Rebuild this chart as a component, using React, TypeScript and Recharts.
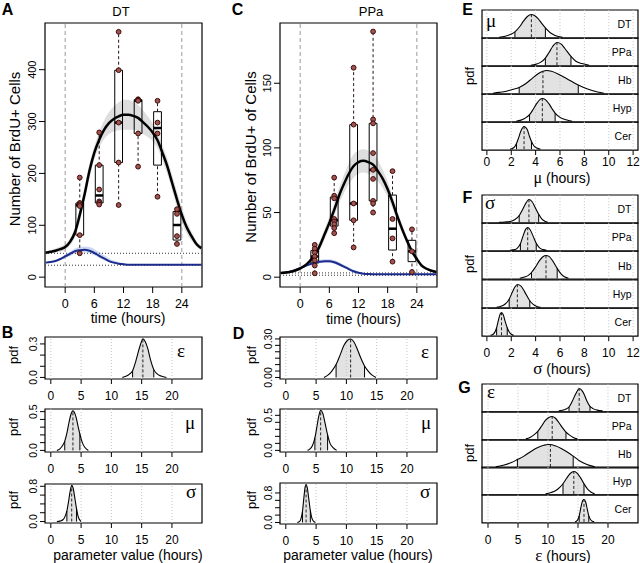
import React from 'react';
import { ComposedChart, XAxis, YAxis, Line, Area, Scatter, ReferenceLine, ReferenceArea } from 'recharts';

const SANS = '"Liberation Sans", Arial, Helvetica, sans-serif';
const SERIF = '"Liberation Serif", "Times New Roman", serif';

// time grid of the fitted curves (hours)
const hours = [-4, -3, -2, -1, 0, 1, 2, 3, 4, 5, 6, 7, 8, 9, 10, 11, 12, 13, 14, 15, 16, 17, 18, 19, 20, 21, 22, 23, 24, 25, 26, 27, 28];
const timeTicks = [0, 6, 12, 18, 24];
const sampleTimes = [3, 7, 11, 15, 19, 23];

// DT counts per sampling time
const dtCounts = [
  [192, 143, 140, 137, 81, 46],
  [279, 216, 169, 146, 143, 140],
  [473, 399, 298, 221, 139],
  [343, 342, 340, 277, 213],
  [340, 298, 277, 155],
  [131, 122, 79, 64],
];
const dtFit = [47, 49, 51, 54, 58, 68, 86, 120, 160, 205, 240, 265, 284, 297, 305, 310, 313, 313, 311, 307, 299, 290, 279, 264, 240, 214, 182, 150, 120, 96, 79, 64, 56];
const dtFitLo = [44, 46, 47, 49, 53, 61, 76, 106, 146, 191, 227, 250, 266, 276, 281, 283, 284, 284, 284, 282, 276, 270, 262, 248, 225, 199, 167, 135, 106, 84, 70, 59, 51];
const dtFitHi = [50, 52, 55, 59, 64, 75, 96, 134, 174, 219, 253, 280, 302, 318, 329, 337, 342, 342, 338, 332, 322, 310, 296, 280, 255, 229, 197, 165, 134, 108, 88, 70, 61];
const dtBg = [28, 29, 31, 35, 40, 45, 50, 52, 53, 51, 47, 41, 36, 31, 28, 26, 25, 24, 24, 24, 24, 24, 24, 24, 24, 24, 24, 24, 24, 24, 24, 24, 24];
const dtBgLo = [27, 28, 30, 33, 37, 41, 45, 47, 48, 46, 42, 37, 33, 29, 26.5, 25, 24, 23.5, 23.5, 23.5, 23.5, 23.5, 23.5, 23.5, 23.5, 23.5, 23.5, 23.5, 23.5, 23.5, 23.5, 23.5, 23.5];
const dtBgHi = [29, 30, 32, 37, 43, 49, 55, 58, 59, 58, 54, 48, 42, 36, 32, 29, 27, 25.5, 25, 24.5, 24.5, 24.5, 24.5, 24.5, 24.5, 24.5, 24.5, 24.5, 24.5, 24.5, 24.5, 24.5, 24.5];
const dtLevels = [46, 23];

// PPa counts per sampling time
const ppaCounts = [
  [25, 22, 19, 16, 13, 9, 3],
  [77, 63, 61, 45, 43, 41, 38, 34],
  [162, 118, 57, 44, 23],
  [190, 122, 119, 96, 83, 76, 59, 57, 50],
  [82, 45, 30, 12],
  [37, 20, 4],
];
const ppaFit = [3.3, 3.6, 4.2, 5.2, 6.8, 9, 12.5, 17, 24, 33, 42, 52, 63, 72, 80, 86, 89, 90, 89, 87, 82, 76, 68, 58, 47, 37, 28, 20, 14, 9, 6.5, 5, 4];
const ppaFitLo = [3, 3.2, 3.7, 4.5, 5.8, 7.6, 10.5, 14.5, 20.5, 29, 37.5, 47, 57, 65, 72, 77, 80, 81, 80, 78, 74, 69, 62, 53, 43, 33.5, 25, 17.5, 12, 7.7, 5.5, 4.2, 3.4];
const ppaFitHi = [3.6, 4, 4.7, 5.9, 7.8, 10.4, 14.5, 19.5, 27.5, 37, 46.5, 57, 69, 79, 88, 95, 98, 99, 98, 96, 90, 83, 74, 63, 51, 40.5, 31, 22.5, 16, 10.3, 7.5, 5.8, 4.6];
const ppaBg = [3.2, 3.6, 4.3, 5.5, 7, 8.6, 10, 11.2, 12, 12.4, 12.4, 11.6, 10, 8.2, 6.3, 4.6, 3.4, 2.7, 2.4, 2.3, 2.3, 2.3, 2.3, 2.3, 2.3, 2.3, 2.3, 2.3, 2.3, 2.3, 2.3, 2.3, 2.3];
const ppaBgLo = [3, 3.4, 4, 5, 6.3, 7.8, 9, 10.1, 10.8, 11.2, 11.2, 10.4, 8.9, 7.2, 5.4, 3.9, 2.9, 2.4, 2.2, 2.1, 2.1, 2.1, 2.1, 2.1, 2.1, 2.1, 2.1, 2.1, 2.1, 2.1, 2.1, 2.1, 2.1];
const ppaBgHi = [3.4, 3.9, 4.7, 6, 7.7, 9.4, 11, 12.4, 13.3, 13.8, 13.9, 13.2, 11.6, 9.7, 7.6, 5.6, 4.2, 3.3, 2.8, 2.6, 2.5, 2.5, 2.5, 2.5, 2.5, 2.5, 2.5, 2.5, 2.5, 2.5, 2.5, 2.5, 2.5];
const ppaLevels = [3.3, 1.5];

// posterior densities [value, pdf] and their quantiles [low, median, high]
const epsDT = [[11.8, 0], [12.4, 0.01], [13.0, 0.03], [13.5, 0.06], [14.0, 0.14], [14.5, 0.24], [14.9, 0.31], [15.2, 0.345], [15.6, 0.32], [16.0, 0.26], [16.5, 0.15], [17.0, 0.07], [17.5, 0.035], [18.2, 0.012], [19.1, 0]];
const epsDTq = [13.5, 15.2, 17.0];
const muDT = [[1.0, 0], [1.5, 0.02], [2.0, 0.07], [2.3, 0.12], [2.7, 0.24], [3.0, 0.36], [3.3, 0.46], [3.65, 0.51], [3.9, 0.49], [4.2, 0.42], [4.5, 0.31], [4.8, 0.21], [5.2, 0.1], [5.6, 0.04], [6.2, 0]];
const muDTq = [2.3, 3.65, 4.8];
const sigDT = [[1.0, 0], [1.5, 0.01], [2.0, 0.04], [2.3, 0.1], [2.65, 0.24], [2.9, 0.43], [3.2, 0.69], [3.45, 0.82], [3.7, 0.75], [4.0, 0.5], [4.25, 0.29], [4.5, 0.12], [4.75, 0.04], [5.0, 0]];
const sigDTq = [2.65, 3.45, 4.25];

const epsPPa = [[6.3, 0], [7.0, 0.02], [7.6, 0.05], [8.3, 0.1], [9.0, 0.18], [9.6, 0.25], [10.2, 0.29], [10.7, 0.3], [11.2, 0.28], [11.8, 0.22], [12.4, 0.15], [13.0, 0.09], [13.6, 0.05], [14.2, 0.02], [14.9, 0]];
const epsPPaq = [8.3, 10.7, 13.0];
const muPPa = [[3.6, 0], [4.0, 0.02], [4.4, 0.07], [4.8, 0.18], [5.1, 0.32], [5.4, 0.47], [5.75, 0.57], [6.1, 0.53], [6.4, 0.42], [6.9, 0.22], [7.3, 0.1], [7.8, 0.04], [8.4, 0]];
const muPPaq = [4.8, 5.75, 6.9];
const sigPPa = [[1.9, 0], [2.3, 0.03], [2.5, 0.1], [2.75, 0.3], [3.0, 0.7], [3.2, 0.97], [3.35, 1.03], [3.55, 0.93], [3.8, 0.63], [4.05, 0.32], [4.3, 0.12], [4.6, 0.03], [4.9, 0]];
const sigPPaq = [2.75, 3.35, 4.05];

const muHb = [[0.5, 0], [1.0, 0.01], [1.6, 0.025], [2.1, 0.045], [2.65, 0.07], [3.2, 0.12], [3.7, 0.18], [4.2, 0.24], [4.6, 0.27], [4.9, 0.28], [5.3, 0.27], [5.8, 0.24], [6.3, 0.2], [6.9, 0.15], [7.5, 0.1], [8.1, 0.06], [8.7, 0.03], [9.6, 0]];
const muHbq = [2.65, 4.6, 7.5];
const muHyp = [[2.4, 0], [2.8, 0.02], [3.1, 0.05], [3.5, 0.12], [3.8, 0.22], [4.1, 0.33], [4.35, 0.4], [4.55, 0.42], [4.8, 0.4], [5.1, 0.32], [5.35, 0.23], [5.6, 0.15], [6.0, 0.07], [6.5, 0.025], [7.0, 0]];
const muHypq = [3.5, 4.55, 5.6];
const muCer = [[1.9, 0], [2.2, 0.05], [2.43, 0.2], [2.6, 0.4], [2.8, 0.65], [3.05, 0.8], [3.3, 0.7], [3.5, 0.45], [3.66, 0.27], [3.85, 0.12], [4.1, 0.04], [4.4, 0]];
const muCerq = [2.43, 3.05, 3.66];

const sigHb = [[2.7, 0], [3.1, 0.03], [3.4, 0.07], [3.66, 0.14], [4.0, 0.28], [4.3, 0.42], [4.6, 0.52], [4.85, 0.55], [5.1, 0.53], [5.4, 0.42], [5.77, 0.24], [6.1, 0.1], [6.4, 0.03], [6.7, 0]];
const sigHbq = [3.66, 4.85, 5.77];
const sigHyp = [[0.8, 0], [1.2, 0.03], [1.5, 0.08], [1.83, 0.2], [2.1, 0.38], [2.3, 0.5], [2.5, 0.56], [2.8, 0.52], [3.1, 0.38], [3.52, 0.16], [3.8, 0.07], [4.1, 0.02], [4.4, 0]];
const sigHypq = [1.83, 2.5, 3.52];
const sigCer = [[0.3, 0], [0.55, 0.05], [0.8, 0.3], [0.95, 0.6], [1.1, 0.85], [1.2, 0.9], [1.35, 0.8], [1.5, 0.55], [1.67, 0.3], [1.85, 0.12], [2.0, 0.04], [2.2, 0]];
const sigCerq = [0.8, 1.2, 1.67];

const epsHb = [[1.3, 0], [2.5, 0.006], [3.8, 0.015], [4.9, 0.027], [6.0, 0.04], [7.2, 0.058], [8.3, 0.072], [9.3, 0.08], [10.0, 0.083], [10.4, 0.083], [11.2, 0.078], [12.2, 0.068], [13.2, 0.055], [14.2, 0.04], [15.3, 0.022], [16.5, 0.009], [17.8, 0]];
const epsHbq = [4.9, 10.4, 14.2];
const epsHyp = [[9.6, 0], [10.5, 0.02], [11.3, 0.05], [12.0, 0.1], [12.5, 0.15], [13.1, 0.23], [13.7, 0.3], [14.3, 0.33], [14.8, 0.31], [15.4, 0.24], [16.0, 0.15], [16.6, 0.07], [17.2, 0.025], [17.8, 0]];
const epsHypq = [12.5, 14.3, 16.0];
const epsCer = [[14.5, 0], [14.9, 0.05], [15.2, 0.2], [15.5, 0.5], [15.8, 0.72], [16.0, 0.75], [16.3, 0.65], [16.55, 0.42], [16.8, 0.2], [17.1, 0.07], [17.4, 0.02], [17.7, 0]];
const epsCerq = [15.2, 16.0, 16.8];

const regions = ['DT', 'PPa', 'Hb', 'Hyp', 'Cer'];
const paramTicks = [0, 5, 10, 15, 20];
const muTicks = [0, 2, 4, 6, 8, 10, 12];

const timeDomain = [-4.15, 28.15];
const paramDomain = [-0.96, 24.96];
const hourDomain = [-0.4, 12.4];
const epsDomain = [-1, 25];

// Tukey five-number summary, as boxplot() uses
function fivenum(vals: number[]) {
  const s = [...vals].sort((a, b) => a - b);
  const n = s.length;
  const n4 = Math.floor((n + 3) / 2) / 2;
  const idx = [1, n4, (n + 1) / 2, n + 1 - n4, n];
  return idx.map((k) => (s[Math.floor(k) - 1] + s[Math.ceil(k) - 1]) / 2);
}

function rotTick(labels: string[], size: number) {
  return (p: any) => {
    const s = labels[p.index];
    if (!s) return <g />;
    return (
      <text x={p.x} y={p.y} transform={`rotate(-90 ${p.x} ${p.y})`} textAnchor="middle" fontSize={size} fontFamily={SANS} fill="#000">
        {s}
      </text>
    );
  };
}

function Txt({ x, y, size = 12, rot = false, bold = false, serif = false, anchor = 'middle', children }: any) {
  const tx = anchor === 'end' ? '-100%' : anchor === 'start' ? '0%' : '-50%';
  return (
    <div
      style={{
        position: 'absolute', left: x, top: y,
        transform: `translate(${tx}, -50%)${rot ? ' rotate(-90deg)' : ''}`,
        fontSize: size, fontWeight: bold ? 700 : 400, fontFamily: serif ? SERIF : SANS,
        lineHeight: 1, whiteSpace: 'nowrap', color: '#000',
      }}
    >
      {children}
    </div>
  );
}

function TimeCourse({ x, y, w, h, counts, fit, fitLo, fitHi, bg, bgLo, bgHi, levels, yDomain, yTicks }: any) {
  const L = 34, R = 3, T = 10, B = 30;
  const rows = hours.map((t, i) => ({ t, fit: fit[i], band: [fitLo[i], fitHi[i]], bg: bg[i], bgBand: [bgLo[i], bgHi[i]] }));
  const pts = sampleTimes.flatMap((t, i) => counts[i].map((v: number) => ({ t, v })));
  const stats = sampleTimes.map((t, i) => ({ t, f: fivenum(counts[i]) }));
  const hw = 0.8;
  return (
    <div style={{ position: 'absolute', left: x - L, top: y - T }}>
      <ComposedChart width={w + L + R} height={h + T + B} data={rows} margin={{ top: T, right: R, bottom: 0, left: 0 }}>
        <XAxis type="number" dataKey="t" domain={timeDomain} ticks={timeTicks} allowDataOverflow interval={0} height={B}
          axisLine={false} tickSize={6} tickMargin={6} tickLine={{ stroke: '#000' }}
          tick={{ fontSize: 12.5, fill: '#000', fontFamily: SANS }} />
        <YAxis type="number" domain={yDomain} ticks={yTicks} allowDataOverflow interval={0} width={L}
          axisLine={false} tickSize={6} tickMargin={3} tickLine={{ stroke: '#000' }}
          tick={rotTick(yTicks.map(String), 11)} />
        <ReferenceLine x={0} stroke="#9a9a9a" strokeDasharray="4 3" />
        <ReferenceLine x={24} stroke="#9a9a9a" strokeDasharray="4 3" />
        {levels.map((l: number) => (
          <ReferenceLine key={`lv${l}`} y={l} stroke="#333" strokeDasharray="1 2" />
        ))}
        <Area dataKey="band" type="monotone" fill="#8a8a8a" fillOpacity={0.28} stroke="none" isAnimationActive={false} />
        <Area dataKey="bgBand" type="monotone" fill="#6d8de0" fillOpacity={0.35} stroke="none" isAnimationActive={false} />
        {stats.map(({ t, f }) => [
          <ReferenceLine key={`wl${t}`} segment={[{ x: t, y: f[0] }, { x: t, y: f[1] }]} stroke="#2a1515" strokeDasharray="3 2.5" />,
          <ReferenceLine key={`wh${t}`} segment={[{ x: t, y: f[3] }, { x: t, y: f[4] }]} stroke="#2a1515" strokeDasharray="3 2.5" />,
          <ReferenceArea key={`bx${t}`} x1={t - hw} x2={t + hw} y1={f[1]} y2={f[3]} fill="none" stroke="#000" strokeWidth={1} ifOverflow="visible" />,
          <ReferenceLine key={`md${t}`} segment={[{ x: t - hw, y: f[2] }, { x: t + hw, y: f[2] }]} stroke="#000" strokeWidth={2.5} />,
        ])}
        <Line dataKey="bg" type="monotone" stroke="#1c2b8c" strokeWidth={2} dot={false} isAnimationActive={false} />
        <Line dataKey="fit" type="monotone" stroke="#000" strokeWidth={2.5} dot={false} isAnimationActive={false} />
        <Scatter data={pts} dataKey="v" isAnimationActive={false}
          shape={(p: any) => <circle cx={p.cx} cy={p.cy} r={2.4} fill="#a3534e" stroke="#3a0c0c" strokeWidth={1} />} />
        <ReferenceArea x1={timeDomain[0]} x2={timeDomain[1]} y1={yDomain[0]} y2={yDomain[1]} fill="none" stroke="#000" strokeWidth={1.2} ifOverflow="visible" />
      </ComposedChart>
    </div>
  );
}

function Density({ pts, q, x, y, w, h, xDomain, xTicks, yDomain, yTicks, yLabels, showX, gap = 8 }: any) {
  const L = yTicks ? 40 : 6;
  const R = 3;
  const T = yTicks ? 12 : 3;
  const B = showX ? 30 : 3;
  const data = pts.map(([px, py]: number[]) => ({ px, py }));
  const at = (v: number) => (data.find((d: any) => d.px === v) || { py: 0 }).py;
  const peak = Math.max(...data.map((d: any) => d.py));
  const dom = yDomain || [-0.04 * peak, 1.2 * peak];
  return (
    <div style={{ position: 'absolute', left: x - L, top: y - T }}>
      <ComposedChart width={w + L + R} height={h + T + B} data={data} margin={{ top: T, right: R, bottom: 0, left: 0 }}>
        <XAxis type="number" dataKey="px" domain={xDomain} ticks={xTicks} allowDataOverflow interval={0} height={B}
          axisLine={false} tickSize={showX ? 5 : 0} tickMargin={gap} tickLine={showX ? { stroke: '#000' } : false}
          tick={showX ? { fontSize: 12, fill: '#000', fontFamily: SANS } : false} />
        <YAxis type="number" domain={dom} ticks={yTicks || [0]} allowDataOverflow interval={0} width={L}
          axisLine={false} tickSize={yTicks ? 5 : 0} tickMargin={3} tickLine={yTicks ? { stroke: '#000' } : false}
          tick={yTicks ? rotTick(yLabels, 10.5) : false} />
        {xTicks.map((t: number) => (
          <ReferenceLine key={`g${t}`} x={t} stroke="#c4c4c4" strokeDasharray="1 2" />
        ))}
        <Area dataKey={(d: any) => (d.px >= q[0] && d.px <= q[2] ? d.py : null)} type="monotone" baseValue={0}
          fill="#e2e2e2" fillOpacity={1} stroke="none" isAnimationActive={false} />
        <Line dataKey="py" type="monotone" stroke="#000" strokeWidth={1.1} dot={false} isAnimationActive={false} />
        <ReferenceLine segment={[{ x: q[0], y: 0 }, { x: q[0], y: at(q[0]) }]} stroke="#000" />
        <ReferenceLine segment={[{ x: q[2], y: 0 }, { x: q[2], y: at(q[2]) }]} stroke="#000" />
        <ReferenceLine segment={[{ x: q[1], y: 0 }, { x: q[1], y: at(q[1]) }]} stroke="#222" strokeDasharray="3 2" />
        <ReferenceArea x1={xDomain[0]} x2={xDomain[1]} y1={dom[0]} y2={dom[1]} fill="none" stroke="#000" strokeWidth={1.2} ifOverflow="visible" />
      </ComposedChart>
    </div>
  );
}

const muSets = [muDT, muPPa, muHb, muHyp, muCer];
const muQs = [muDTq, muPPaq, muHbq, muHypq, muCerq];
const sigSets = [sigDT, sigPPa, sigHb, sigHyp, sigCer];
const sigQs = [sigDTq, sigPPaq, sigHbq, sigHypq, sigCerq];
const epsSets = [epsDT, epsPPa, epsHb, epsHyp, epsCer];
const epsQs = [epsDTq, epsPPaq, epsHbq, epsHypq, epsCerq];

function Ridges({ top, rowH, sets, qs, xDomain, xTicks, gap }: any) {
  return (
    <>
      {sets.map((pts: number[][], i: number) => (
        <Density key={i} pts={pts} q={qs[i]} x={482} y={top + i * rowH} w={156} h={rowH}
          xDomain={xDomain} xTicks={xTicks} showX={i === sets.length - 1} gap={gap} />
      ))}
      {regions.map((r, i) => (
        <Txt key={r} x={631.5} y={top + i * rowH + rowH / 2} size={10.5} anchor="end">{r}</Txt>
      ))}
    </>
  );
}

export default function App() {
  return (
    <div style={{ position: 'absolute', left: 0, top: 0, width: 640, height: 563, background: '#fff', overflow: 'hidden', fontFamily: SANS }}>
      <TimeCourse x={45} y={23} w={157} h={264} counts={dtCounts} fit={dtFit} fitLo={dtFitLo} fitHi={dtFitHi}
        bg={dtBg} bgLo={dtBgLo} bgHi={dtBgHi} levels={dtLevels} yDomain={[-19, 490]} yTicks={[0, 100, 200, 300, 400]} />
      <TimeCourse x={280} y={23} w={157} h={264} counts={ppaCounts} fit={ppaFit} fitLo={ppaFitLo} fitHi={ppaFitHi}
        bg={ppaBg} bgLo={ppaBgLo} bgHi={ppaBgHi} levels={ppaLevels} yDomain={[-7.6, 196.6]} yTicks={[0, 50, 100, 150]} />

      <Density pts={epsDT} q={epsDTq} x={45} y={337} w={157} h={42} xDomain={paramDomain} xTicks={paramTicks} showX gap={7}
        yDomain={[-0.014, 0.362]} yTicks={[0, 0.1, 0.2, 0.3]} yLabels={['0.0', '', '', '0.3']} />
      <Density pts={muDT} q={muDTq} x={45} y={409} w={157} h={43} xDomain={paramDomain} xTicks={paramTicks} showX gap={7}
        yDomain={[-0.0205, 0.534]} yTicks={[0, 0.1, 0.2, 0.3, 0.4, 0.5]} yLabels={['0.0', '', '', '', '', '0.5']} />
      <Density pts={sigDT} q={sigDTq} x={45} y={484} w={157} h={39} xDomain={paramDomain} xTicks={paramTicks} showX gap={7}
        yDomain={[-0.033, 0.852]} yTicks={[0, 0.2, 0.4, 0.6, 0.8]} yLabels={['0.0', '', '', '', '0.8']} />

      <Density pts={epsPPa} q={epsPPaq} x={280} y={337} w={157} h={42} xDomain={paramDomain} xTicks={paramTicks} showX gap={7}
        yDomain={[-0.012, 0.315]} yTicks={[0, 0.05, 0.1, 0.15, 0.2, 0.25, 0.3]} yLabels={['0.00', '', '', '', '', '', '0.30']} />
      <Density pts={muPPa} q={muPPaq} x={280} y={409} w={157} h={43} xDomain={paramDomain} xTicks={paramTicks} showX gap={7}
        yDomain={[-0.023, 0.59]} yTicks={[0, 0.1, 0.2, 0.3, 0.4, 0.5]} yLabels={['0.0', '', '', '', '', '0.5']} />
      <Density pts={sigPPa} q={sigPPaq} x={280} y={483} w={157} h={41} xDomain={paramDomain} xTicks={paramTicks} showX gap={7}
        yDomain={[-0.041, 1.07]} yTicks={[0, 0.2, 0.4, 0.6, 0.8]} yLabels={['0.0', '', '', '', '0.8']} />

      <Ridges top={9.5} rowH={28.1} sets={muSets} qs={muQs} xDomain={hourDomain} xTicks={muTicks} gap={2} />
      <Ridges top={195} rowH={28.2} sets={sigSets} qs={sigQs} xDomain={hourDomain} xTicks={muTicks} gap={7} />
      <Ridges top={384} rowH={27.8} sets={epsSets} qs={epsQs} xDomain={epsDomain} xTicks={paramTicks} gap={8} />

      {/* panel letters */}
      <Txt x={7.5} y={10} size={16} bold>A</Txt>
      <Txt x={7.5} y={333} size={16} bold>B</Txt>
      <Txt x={237.5} y={9.5} size={16} bold>C</Txt>
      <Txt x={238.5} y={333.5} size={16} bold>D</Txt>
      <Txt x={467.5} y={10} size={16} bold>E</Txt>
      <Txt x={467.5} y={197.5} size={16} bold>F</Txt>
      <Txt x={464.5} y={387.5} size={16} bold>G</Txt>

      {/* titles and axis titles */}
      <Txt x={121} y={10.5} size={13}>DT</Txt>
      <Txt x={371} y={10.5} size={13}>PPa</Txt>
      <Txt x={14} y={149} size={15} rot>Number of BrdU+ Cells</Txt>
      <Txt x={250} y={157} size={15} rot>Number of BrdU+ of Cells</Txt>
      <Txt x={128} y={318} size={14}>time (hours)</Txt>
      <Txt x={363.5} y={318.5} size={14}>time (hours)</Txt>
      <Txt x={128} y={555} size={14}>parameter value (hours)</Txt>
      <Txt x={358} y={555} size={14}>parameter value (hours)</Txt>
      {[355, 427, 500].map((yy) => <Txt key={`pb${yy}`} x={12.5} y={yy} size={13} rot>pdf</Txt>)}
      {[355, 427, 500].map((yy) => <Txt key={`pd${yy}`} x={251} y={yy} size={13} rot>pdf</Txt>)}
      <Txt x={469} y={76} size={13} rot>pdf</Txt>
      <Txt x={469} y={264} size={13} rot>pdf</Txt>
      <Txt x={469} y={453} size={13} rot>pdf</Txt>
      <Txt x={562} y={178} size={14}><span style={{ fontFamily: SERIF, fontSize: 16 }}>μ</span> (hours)</Txt>
      <Txt x={562} y={368} size={14}><span style={{ fontFamily: SERIF, fontSize: 17 }}>σ</span> (hours)</Txt>
      <Txt x={563} y={555} size={14}><span style={{ fontFamily: SERIF, fontSize: 17 }}>ε</span> (hours)</Txt>

      {/* parameter symbols inside the density panels */}
      <Txt x={181} y={350} size={19} serif>ε</Txt>
      <Txt x={190} y={422} size={19} serif>μ</Txt>
      <Txt x={191} y={491} size={19} serif>σ</Txt>
      <Txt x={425} y={351} size={19} serif>ε</Txt>
      <Txt x={426} y={422} size={19} serif>μ</Txt>
      <Txt x={425} y={491} size={19} serif>σ</Txt>
      <Txt x={491} y={20} size={19} serif>μ</Txt>
      <Txt x={490} y={202} size={19} serif>σ</Txt>
      <Txt x={491} y={391} size={19} serif>ε</Txt>
    </div>
  );
}
